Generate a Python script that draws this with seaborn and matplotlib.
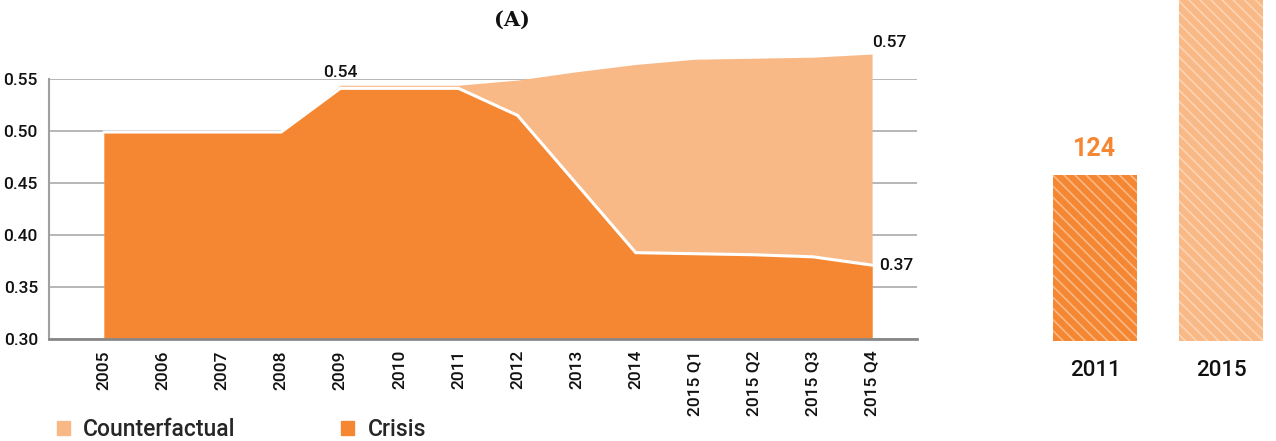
import matplotlib
matplotlib.use("Agg")
import matplotlib.pyplot as plt
import matplotlib.patches as mpatches
import seaborn as sns
import pandas as pd
import numpy as np

# ---- data ----
periods = ["2005", "2006", "2007", "2008", "2009", "2010", "2011", "2012",
           "2013", "2014", "2015 Q1", "2015 Q2", "2015 Q3", "2015 Q4"]
crisis = [0.499, 0.499, 0.499, 0.499, 0.541, 0.541, 0.541, 0.515,
          0.449, 0.383, 0.382, 0.381, 0.379, 0.371]
counterfactual = [0.499, 0.499, 0.499, 0.499, 0.544, 0.544, 0.544, 0.549,
                  0.557, 0.564, 0.569, 0.570, 0.571, 0.574]
y_ticks = [0.30, 0.35, 0.40, 0.45, 0.50, 0.55]

bar_years = ["2011", "2015"]
bar_values = [124, 262]

ORANGE = "#F58733"
LIGHT = "#F9B987"
PALE = "#FDD3B2"

sns.set_theme(style="white")
plt.rcParams["font.family"] = ["Roboto", "DejaVu Sans"]
plt.rcParams["hatch.linewidth"] = 1.2

W, H = 1276, 441
fig = plt.figure(figsize=(W / 100, H / 100), dpi=100)

# ---- left panel: area chart ----
ax = fig.add_axes([49 / W, 1 - 339 / H, (917 - 49) / W, (339 - 79) / H])
df = pd.DataFrame({"pos": np.arange(len(periods)), "period": periods,
                   "Crisis": crisis, "Counterfactual": counterfactual})

ax.fill_between(df["pos"], 0.30, df["Counterfactual"], color=LIGHT,
                lw=0, zorder=2, clip_on=False)
ax.fill_between(df["pos"], 0.30, df["Crisis"], color=ORANGE,
                lw=0, zorder=3, clip_on=False)
sns.lineplot(data=df, x="pos", y="Crisis", color="white", lw=2.2, ax=ax,
             zorder=4, clip_on=False)

ax.set_xlim(-0.93, 13.76)
ax.set_ylim(0.30, 0.55)
ax.set_yticks(y_ticks)
ax.set_yticklabels([f"{v:.2f}" for v in y_ticks], fontsize=12.5,
                   color="#111111", fontweight="medium")
ax.set_xticks(df["pos"])
ax.set_xticklabels(periods, rotation=90, fontsize=12.5, color="#111111",
                   fontweight="medium")
ax.tick_params(axis="both", length=0)
ax.tick_params(axis="x", pad=8)
ax.tick_params(axis="y", pad=8)
ax.set_xlabel("")
ax.set_ylabel("")
ax.grid(axis="y", color="#AAAAAA", lw=1.2, zorder=0)
ax.set_axisbelow(True)
for s in ["top", "right"]:
    ax.spines[s].set_visible(False)
ax.spines["left"].set_color("#A0A0A0")
ax.spines["left"].set_linewidth(1.5)
ax.spines["bottom"].set_color("#888888")
ax.spines["bottom"].set_linewidth(2)
ax.spines["bottom"].set_zorder(5)

ax.annotate("0.54", (4, crisis[4]), xytext=(0, 6), textcoords="offset points",
            ha="center", va="bottom", fontsize=12.5, fontweight="medium",
            color="#111111", annotation_clip=False)
ax.annotate("0.57", (13, counterfactual[13]), xytext=(0, 3),
            textcoords="offset points", ha="left", va="bottom", fontsize=12.5,
            fontweight="medium", color="#111111", annotation_clip=False)
ax.annotate("0.37", (13, crisis[13]), xytext=(5, 0),
            textcoords="offset points", ha="left", va="center", fontsize=12.5,
            fontweight="medium", color="#111111", annotation_clip=False)

fig.text(512 / W, 1 - 20 / H, "(A)", ha="center", va="center",
         fontsize=15, fontweight="bold", family=["DejaVu Serif"], color="#111111")

handles = [mpatches.Patch(color=LIGHT, label="Counterfactual"),
           mpatches.Patch(color=ORANGE, label="Crisis")]
fig.legend(handles=handles, loc="center left",
           bbox_to_anchor=(57 / W, 1 - 430 / H), ncol=2, frameon=False,
           prop={"size": 16.5, "weight": "medium"},
           handlelength=0.55, handleheight=0.55,
           handletextpad=0.6, columnspacing=4.6, borderaxespad=0,
           borderpad=0)

# ---- right panel: bars ----
bx = fig.add_axes([1032 / W, 1 - 341 / H, 244 / W, 341 / H])
bdf = pd.DataFrame({"year": bar_years, "value": bar_values})
sns.barplot(data=bdf, x="year", y="value", hue="year",
            palette=[ORANGE, LIGHT], width=0.66, legend=False, ax=bx,
            saturation=1)
stripe_cols = [LIGHT, PALE]
for p, c in zip(bx.patches, stripe_cols):
    p.set_hatch("\\\\\\")
    p.set_edgecolor(c)
    p.set_linewidth(0)
bx.set_xlim(-0.5, 1.437)
bx.set_ylim(0, 341 / 166 * bar_values[0])
bx.set_yticks([])
bx.set_xlabel("")
bx.set_ylabel("")
bx.tick_params(axis="x", length=0, pad=14, labelsize=16, labelcolor="#111111")
for lbl in bx.get_xticklabels():
    lbl.set_fontweight("medium")
for s in bx.spines.values():
    s.set_visible(False)
bx.patch.set_alpha(0)
bx.annotate(f"{bar_values[0]}", (0, bar_values[0]), xytext=(0, 10),
            textcoords="offset points", ha="center", va="bottom",
            fontsize=18, fontweight="bold", color=ORANGE)

fig.savefig("out.png", dpi=100)
